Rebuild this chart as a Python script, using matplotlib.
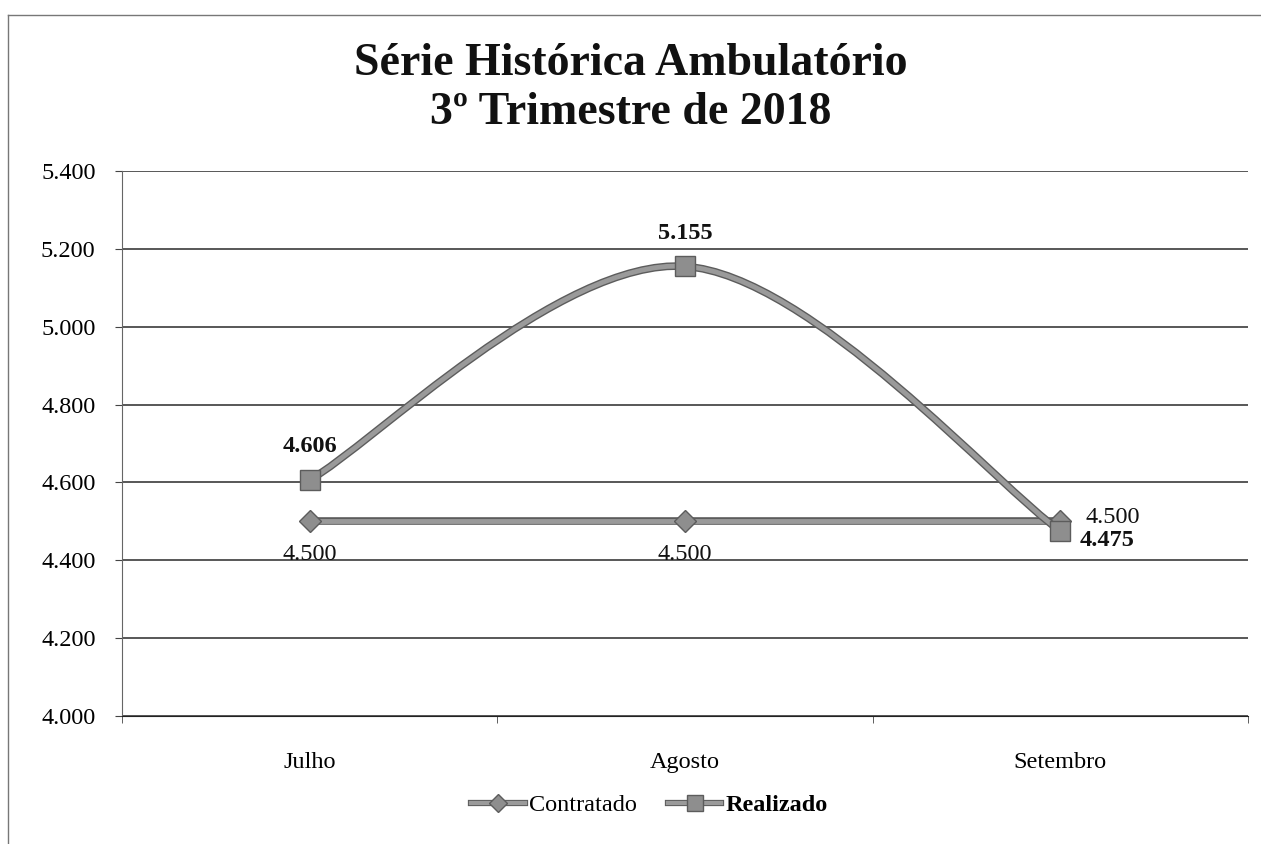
import numpy as np
import matplotlib.pyplot as plt
import matplotlib.patheffects as pe
from matplotlib.path import Path
from matplotlib.patches import PathPatch
from matplotlib.lines import Line2D
from matplotlib.ticker import FuncFormatter

plt.rcParams['font.family'] = ['Liberation Serif', 'DejaVu Serif']

# --- dados ---
meses = ['Julho', 'Agosto', 'Setembro']
contratado = [4500, 4500, 4500]
realizado = [4606, 5155, 4475]
y_ticks = [4000, 4200, 4400, 4600, 4800, 5000, 5200, 5400]

cinza = '#9a9a9a'
borda = '#5c5c5c'
efeito = [pe.Stroke(linewidth=5.5, foreground=borda), pe.Normal()]


def curva_suave(xs, ys):
    # curva de Bezier tipo Excel (linha suavizada)
    pts = np.column_stack([xs, ys]).astype(float)
    n = len(pts)
    verts = [pts[0]]
    codes = [Path.MOVETO]
    for i in range(n - 1):
        p0 = pts[max(i - 1, 0)]
        p1 = pts[i]
        p2 = pts[i + 1]
        p3 = pts[min(i + 2, n - 1)]
        c1 = p1 + (p2 - p0) / 6
        c2 = p2 - (p3 - p1) / 6
        verts += [c1, c2, p2]
        codes += [Path.CURVE4] * 3
    return Path(verts, codes)


fig = plt.figure(figsize=(12.61, 8.44), dpi=100)
ax = fig.add_axes([0.0967, 0.1517, 0.893, 0.6457])

x = np.arange(len(meses))

# Contratado
ax.plot(x, contratado, color=cinza, lw=3.5, path_effects=efeito, zorder=3)
ax.plot(x, contratado, ls='none', marker='D', ms=11, mfc='#8e8e8e', mec=borda,
        mew=1, zorder=4)

# Realizado (suavizado)
patch = PathPatch(curva_suave(x, realizado), fill=False, edgecolor=cinza, lw=3.5,
                  path_effects=efeito, zorder=5)
ax.add_patch(patch)
ax.plot(x, realizado, ls='none', marker='s', ms=14, mfc='#8e8e8e', mec=borda,
        mew=1, zorder=6)

fmt = lambda v: f'{v:,.0f}'.replace(',', '.')

# rótulos de dados
for i, v in enumerate(contratado):
    if i < 2:
        ax.annotate(fmt(v), (i, v), xytext=(0, -24), textcoords='offset points',
                    ha='center', va='center', fontsize=17.5, color='#111')
    else:
        ax.annotate(fmt(v), (i, v), xytext=(18, 3), textcoords='offset points',
                    ha='left', va='center', fontsize=17.5, color='#111')
for i, v in enumerate(realizado):
    if i < 2:
        ax.annotate(fmt(v), (i, v), xytext=(0, 24), textcoords='offset points',
                    ha='center', va='center', fontsize=17.5, fontweight='bold',
                    color='#111')
    else:
        ax.annotate(fmt(v), (i, v), xytext=(14, -7), textcoords='offset points',
                    ha='left', va='center', fontsize=17.5, fontweight='bold',
                    color='#111')

# eixos
ax.set_xlim(-0.5, 2.5)
ax.set_ylim(4000, 5400)
ax.set_yticks(y_ticks)
ax.yaxis.set_major_formatter(FuncFormatter(lambda v, p: fmt(v)))
ax.set_xticks(x)
ax.set_xticklabels(meses)
ax.set_xticks([-0.5, 0.5, 1.5, 2.5], minor=True)
ax.tick_params(axis='x', which='major', length=0, pad=26, labelsize=17.5)
ax.tick_params(axis='x', which='minor', length=5, color='#444', direction='out')
ax.tick_params(axis='y', length=5, pad=14, labelsize=17.5, color='#444')
ax.grid(axis='y', color='#2a2a2a', lw=1.1)
ax.set_axisbelow(True)
for s in ['top', 'right']:
    ax.spines[s].set_visible(False)
ax.spines['left'].set_color('#666')
ax.spines['bottom'].set_color('#222')

# título
fig.text(0.5, 0.895, 'Série Histórica Ambulatório\n3º Trimestre de 2018',
         ha='center', va='center', fontsize=33, fontweight='bold',
         linespacing=1.2, color='#111')

# legenda
ef_leg = [pe.Stroke(linewidth=4.5, foreground=borda), pe.Normal()]
l1 = Line2D([], [], color=cinza, lw=3, path_effects=ef_leg)
m1 = Line2D([], [], ls='none', marker='D', ms=9, mfc='#8e8e8e', mec=borda, mew=1)
l2 = Line2D([], [], color=cinza, lw=3, path_effects=ef_leg)
m2 = Line2D([], [], ls='none', marker='s', ms=12, mfc='#8e8e8e', mec=borda, mew=1)
leg = fig.legend([(l1, m1), (l2, m2)], ['Contratado', 'Realizado'], loc='center',
                 bbox_to_anchor=(0.515, 0.046), ncol=2, frameon=False,
                 fontsize=17.5, handlelength=2.2, handletextpad=0.15,
                 columnspacing=1.3)
leg.get_texts()[1].set_fontweight('bold')

# moldura externa
fig.add_artist(Line2D([0.0063, 0.0063], [0, 0.982], color='#777', lw=1))
fig.add_artist(Line2D([0.0063, 1], [0.982, 0.982], color='#777', lw=1))

fig.savefig('out.png', dpi=100)
